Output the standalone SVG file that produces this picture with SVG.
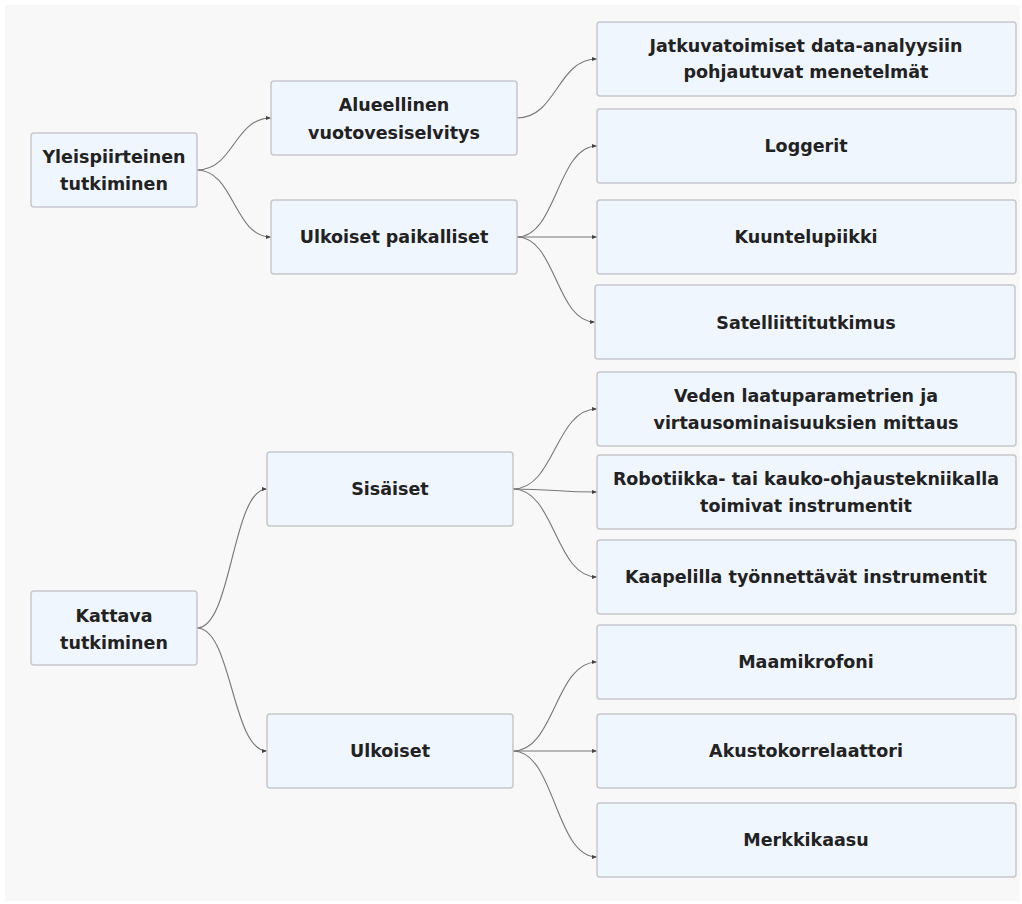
<svg xmlns="http://www.w3.org/2000/svg" width="1022" height="904" viewBox="0 0 1022 904">
<style>
.box{fill:#f0f6fe;stroke:#c6c8cb;stroke-width:1.5}
.t{font-family:"DejaVu Sans","Liberation Sans",Arial,sans-serif;font-weight:bold;font-size:17.5px;fill:#222;text-anchor:middle}
.e{fill:none;stroke:#777;stroke-width:1.1;marker-end:url(#ah)}
</style>
<defs>
<marker id="ah" markerWidth="6" markerHeight="6" refX="5" refY="3" orient="auto" markerUnits="userSpaceOnUse">
<path d="M0,1 L5,3 L0,5 Z" fill="#444"/>
</marker>
</defs>
<rect x="0" y="0" width="1022" height="904" fill="#ffffff"/>
<rect x="5" y="5" width="1015" height="896" fill="#f8f8f8"/>
<g id="connectors">
<path class="e" d="M197,170 C234,170 234,118 271,118"/>
<path class="e" d="M197,170 C234,170 234,237 271,237"/>
<path class="e" d="M517,118 C557,118 557,59 597,59"/>
<path class="e" d="M517,237 C557,237 557,146 597,146"/>
<path class="e" d="M517,237 L597,237"/>
<path class="e" d="M517,237 C556,237 556,322 595,322"/>
<path class="e" d="M197,628 C232,628 232,489 267,489"/>
<path class="e" d="M197,628 C232,628 232,751 267,751"/>
<path class="e" d="M513,489 C555,489 555,409 597,409"/>
<path class="e" d="M513,489 C555,489 555,492 597,492"/>
<path class="e" d="M513,489 C555,489 555,577 597,577"/>
<path class="e" d="M513,751 C555,751 555,662 597,662"/>
<path class="e" d="M513,751 L597,751"/>
<path class="e" d="M513,751 C555,751 555,857 597,857"/>
</g>
<g id="n1"><rect class="box" x="31" y="133" width="166" height="74" rx="3"/><text class="t" x="114" y="163">Yleispiirteinen</text><text class="t" x="114" y="190">tutkiminen</text></g>
<g id="n2"><rect class="box" x="271" y="81" width="246" height="74" rx="3"/><text class="t" x="394" y="111">Alueellinen</text><text class="t" x="394" y="139">vuotovesiselvitys</text></g>
<g id="n3"><rect class="box" x="271" y="200" width="246" height="74" rx="3"/><text class="t" x="394" y="243">Ulkoiset paikalliset</text></g>
<g id="n4"><rect class="box" x="597" y="22" width="419" height="74" rx="3"/><text class="t" x="806" y="52">Jatkuvatoimiset data-analyysiin</text><text class="t" x="806" y="78">pohjautuvat menetelmät</text></g>
<g id="n5"><rect class="box" x="597" y="109" width="419" height="74" rx="3"/><text class="t" x="806" y="152">Loggerit</text></g>
<g id="n6"><rect class="box" x="597" y="200" width="419" height="74" rx="3"/><text class="t" x="806" y="243">Kuuntelupiikki</text></g>
<g id="n7"><rect class="box" x="595" y="285" width="420" height="74" rx="3"/><text class="t" x="806" y="329">Satelliittitutkimus</text></g>
<g id="n8"><rect class="box" x="31" y="591" width="166" height="74" rx="3"/><text class="t" x="114" y="622">Kattava</text><text class="t" x="114" y="649">tutkiminen</text></g>
<g id="n9"><rect class="box" x="267" y="452" width="246" height="74" rx="3"/><text class="t" x="390" y="495">Sisäiset</text></g>
<g id="n10"><rect class="box" x="267" y="714" width="246" height="74" rx="3"/><text class="t" x="390" y="757">Ulkoiset</text></g>
<g id="n11"><rect class="box" x="597" y="372" width="419" height="74" rx="3"/><text class="t" x="806" y="402">Veden laatuparametrien ja</text><text class="t" x="806" y="429">virtausominaisuuksien mittaus</text></g>
<g id="n12"><rect class="box" x="597" y="455" width="419" height="74" rx="3"/><text class="t" x="806" y="485">Robotiikka- tai kauko-ohjaustekniikalla</text><text class="t" x="806" y="512">toimivat instrumentit</text></g>
<g id="n13"><rect class="box" x="597" y="540" width="419" height="74" rx="3"/><text class="t" x="806" y="583">Kaapelilla työnnettävät instrumentit</text></g>
<g id="n14"><rect class="box" x="597" y="625" width="419" height="74" rx="3"/><text class="t" x="806" y="668">Maamikrofoni</text></g>
<g id="n15"><rect class="box" x="597" y="714" width="419" height="74" rx="3"/><text class="t" x="806" y="757">Akustokorrelaattori</text></g>
<g id="n16"><rect class="box" x="597" y="803" width="419" height="74" rx="3"/><text class="t" x="806" y="846">Merkkikaasu</text></g>
</svg>
